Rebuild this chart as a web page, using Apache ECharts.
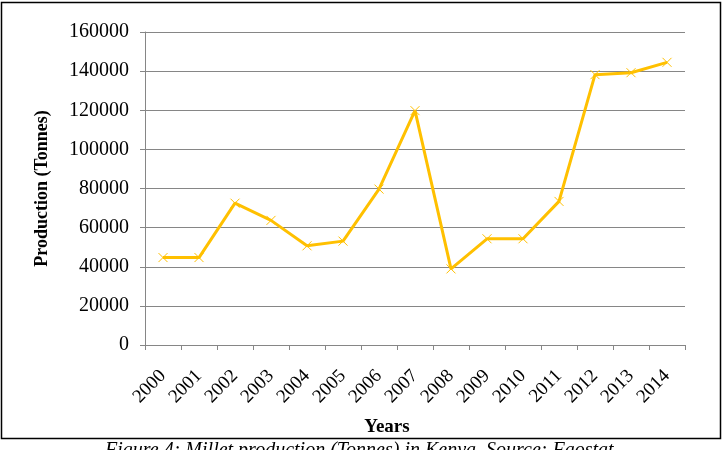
<!DOCTYPE html>
<html><head><meta charset="utf-8">
<script src="https://cdn.jsdelivr.net/npm/echarts@6/dist/echarts.min.js"></script>
<style>html,body{margin:0;padding:0;background:#fff}#c{width:724px;height:450px}</style>
</head><body><div id="c"></div>
<script>
const years = ['2000','2001','2002','2003','2004','2005','2006','2007','2008','2009','2010','2011','2012','2013','2014'];
const production = [44700, 44700, 72500, 63700, 50700, 53100, 79700, 119800, 38900, 54300, 54300, 73400, 138200, 139200, 144500];
const yTicks = [0, 20000, 40000, 60000, 80000, 100000, 120000, 140000, 160000];
const xTitle = 'Years';
const yTitle = 'Production (Tonnes)';
const captionText = 'Figure 4: Millet production (Tonnes) in Kenya. Source: Faostat';

const chart = echarts.init(document.getElementById('c'), null, {renderer:'canvas'});
const serif = '"Liberation Serif","Times New Roman",serif';
chart.setOption({
  backgroundColor:'#fff',
  animation:false,
  grid:{left:145, top:32, right:39, bottom:105, containLabel:false},
  xAxis:{
    type:'category', data:years, boundaryGap:true,
    axisLine:{lineStyle:{color:'#868686', width:1}},
    axisTick:{show:true, alignWithLabel:false, length:5, lineStyle:{color:'#868686'}},
    axisLabel:{rotate:45, fontFamily:serif, fontSize:19, color:'#000', margin:28, interval:0}
  },
  yAxis:{
    type:'value', min:yTicks[0], max:yTicks[yTicks.length-1], interval:20000,
    name:yTitle, nameLocation:'middle', nameGap:94, nameRotate:90,
    nameTextStyle:{fontFamily:serif, fontWeight:'bold', fontSize:18, color:'#000'},
    axisLine:{show:true, lineStyle:{color:'#868686', width:1}},
    axisTick:{show:true, length:5, lineStyle:{color:'#868686'}},
    axisLabel:{fontFamily:serif, fontSize:20, color:'#000', margin:16, formatter:v=>String(v)},
    splitLine:{show:true, lineStyle:{color:'#868686', width:1}}
  },
  series:[{
    type:'line', data:production,
    lineStyle:{color:'#FFC000', width:3},
    symbol:'path://M0,0L10,10M10,0L0,10', symbolSize:9,
    itemStyle:{color:'#FFC000', borderColor:'#FFC000', borderWidth:1},
    z:3
  }],
  graphic:[
    {type:'rect', shape:{x:1.5, y:2.5, width:719, height:436}, style:{fill:'none', stroke:'#000', lineWidth:1.5}, z:-1},
    {type:'text', x:387, y:427, style:{text:xTitle, font:'bold 19px "Liberation Serif", serif', fill:'#000', align:'center', verticalAlign:'middle'}},
    {type:'text', left:105, top:441, style:{text:captionText, font:'italic 20px "Liberation Serif", serif', fill:'#000'}}
  ]
});
</script></body></html>
